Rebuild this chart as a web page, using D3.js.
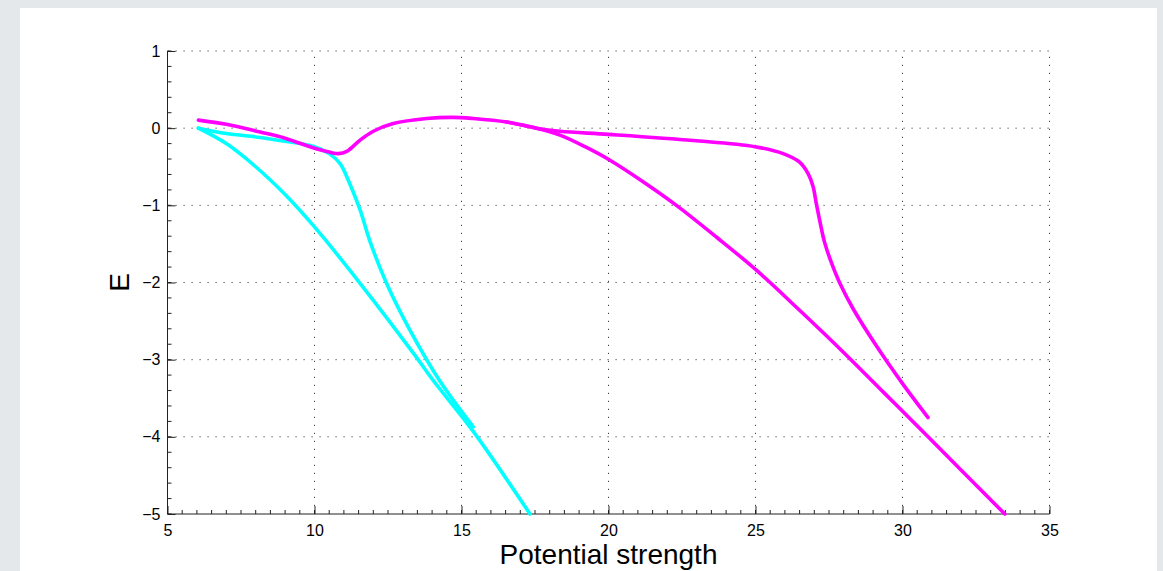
<!DOCTYPE html>
<html>
  <head>
    <meta charset="utf-8">
    <style>
      body { margin: 0; background: #e4e8eb; }
      svg { display: block; }
      .tick text { font-family: "Liberation Sans", Arial, sans-serif; font-size: 16px; fill: #000; }
      .grid line { stroke: #444; stroke-width: 1; stroke-dasharray: 1.2,6.8; }
      .curve { fill: none; stroke-width: 3.6; stroke-linejoin: round; stroke-linecap: round; }
      .title { font-family: "Liberation Sans", Arial, sans-serif; font-size: 28px; fill: #000; }
    </style>
  </head>
  <body>
    <script src="https://d3js.org/d3.v7.min.js"></script>
    <script>
    // chart size
    var width = 1163, height = 571;

    // axis ticks
    var xTicks = [5, 10, 15, 20, 25, 30, 35];
    var yTicks = [1, 0, -1, -2, -3, -4, -5];

    // curves: [potential strength, E]
    var cyanLower = [[6.05, 0], [7, -0.2], [8, -0.5], [9, -0.86], [10, -1.28],
      [11.55, -2.01], [13.47, -2.97], [14.04, -3.27], [15.4, -3.93], [17.33, -5]];
    var cyanUpper = [[6.05, 0], [7, -0.07], [8.15, -0.12], [9, -0.17], [10, -0.24], [10.5, -0.33],
      [10.87, -0.46], [11.2, -0.72], [11.55, -1.06], [11.89, -1.47], [12.45, -2.01],
      [13.25, -2.62], [14.27, -3.28], [15.4, -3.87]];
    var magentaUpper = [[6.05, 0.104], [7, 0.05], [8.15, -0.05], [9, -0.13], [10, -0.26], [10.5, -0.31],
      [10.81, -0.33], [11.1, -0.3], [11.55, -0.155], [12, -0.04], [12.68, 0.06], [13.81, 0.125],
      [14.7, 0.14], [15.4, 0.125], [16.53, 0.08], [17.55, 0.0], [18.35, -0.04], [20, -0.08],
      [22.88, -0.16], [24.98, -0.24], [25.94, -0.33], [26.5, -0.44], [26.79, -0.59],
      [26.96, -0.76], [27.07, -0.98], [27.24, -1.3], [27.35, -1.48], [27.55, -1.71],
      [27.87, -2.01], [28.32, -2.34], [29.11, -2.82], [30.02, -3.32], [30.87, -3.75]];
    var magentaLower = [[16.53, 0.08], [17.55, 0.0], [18.35, -0.09], [19.2, -0.24], [20.05, -0.415],
      [21.2, -0.7], [22.31, -1.0], [23.7, -1.42], [25.03, -1.84], [26.5, -2.36], [27.98, -2.9],
      [29.4, -3.44], [30.87, -4.0], [33.48, -5]];

    var svg = d3.select("body")
        .append("svg")
        .attr("width", width)
        .attr("height", height);

    // white panel
    svg.append("rect")
        .attr("x", 20).attr("y", 8)
        .attr("width", 1137).attr("height", height)
        .attr("fill", "#fff");

    var x = d3.scaleLinear().domain([5, 35]).range([167.5, 1049.5]);
    var y = d3.scaleLinear().domain([-5, 1]).range([514, 51]);

    // dotted grid
    var grid = svg.append("g").attr("class", "grid");
    grid.selectAll(".gx").data(xTicks.slice(1)).enter().append("line")
        .attr("x1", function(d) { return x(d); }).attr("x2", function(d) { return x(d); })
        .attr("y1", y(-5)).attr("y2", y(1));
    grid.selectAll(".gy").data(yTicks.slice(0, -1)).enter().append("line")
        .attr("y1", function(d) { return y(d); }).attr("y2", function(d) { return y(d); })
        .attr("x1", x(5)).attr("x2", x(35));

    // minor ticks (inward)
    var minor = svg.append("g").attr("stroke", "#222").attr("stroke-width", 1);
    minor.selectAll(".mx").data(d3.range(5, 35.01, 0.5)).enter().append("line")
        .attr("x1", function(d) { return x(d); }).attr("x2", function(d) { return x(d); })
        .attr("y1", y(-5)).attr("y2", y(-5) - 4);
    minor.selectAll(".my").data(d3.range(-5, 1.01, 0.2)).enter().append("line")
        .attr("y1", function(d) { return y(d); }).attr("y2", function(d) { return y(d); })
        .attr("x1", x(5)).attr("x2", x(5) + 4);

    // axes, ticks pointing inward
    var fmt = function(d) { return d < 0 ? "\u2212" + Math.abs(d) : d; };
    var xAxis = svg.append("g")
        .attr("transform", "translate(0," + y(-5) + ")")
        .call(d3.axisBottom(x).tickValues(xTicks).tickSize(-8).tickPadding(11).tickFormat(fmt));
    var yAxis = svg.append("g")
        .attr("transform", "translate(" + x(5) + ",0)")
        .call(d3.axisLeft(y).tickValues(yTicks).tickSize(-8).tickPadding(7).tickFormat(fmt));
    [xAxis, yAxis].forEach(function(a) {
      a.select(".domain").remove();
      a.selectAll(".tick line").attr("stroke", "#222");
    });
    svg.append("path")
        .attr("d", "M" + x(5) + "," + y(1) + "V" + y(-5) + "H" + x(35))
        .attr("fill", "none").attr("stroke", "#222");

    // curves
    var line = d3.line()
        .x(function(d) { return x(d[0]); })
        .y(function(d) { return y(d[1]); })
        .curve(d3.curveCatmullRom.alpha(0.5));

    var series = [
      { data: cyanLower, color: "#00ffff" },
      { data: cyanUpper, color: "#00ffff" },
      { data: magentaLower, color: "#ff00ff" },
      { data: magentaUpper, color: "#ff00ff" }
    ];
    svg.selectAll(".curve").data(series).enter().append("path")
        .attr("class", "curve")
        .attr("stroke", function(d) { return d.color; })
        .attr("d", function(d) { return line(d.data); });

    // axis titles
    svg.append("text")
        .attr("class", "title")
        .attr("x", x(20)).attr("y", 564)
        .attr("text-anchor", "middle")
        .text("Potential strength");
    svg.append("text")
        .attr("class", "title")
        .attr("transform", "translate(128.5," + y(-2) + ") rotate(-90)")
        .attr("text-anchor", "middle")
        .text("E");
    </script>
  </body>
</html>
